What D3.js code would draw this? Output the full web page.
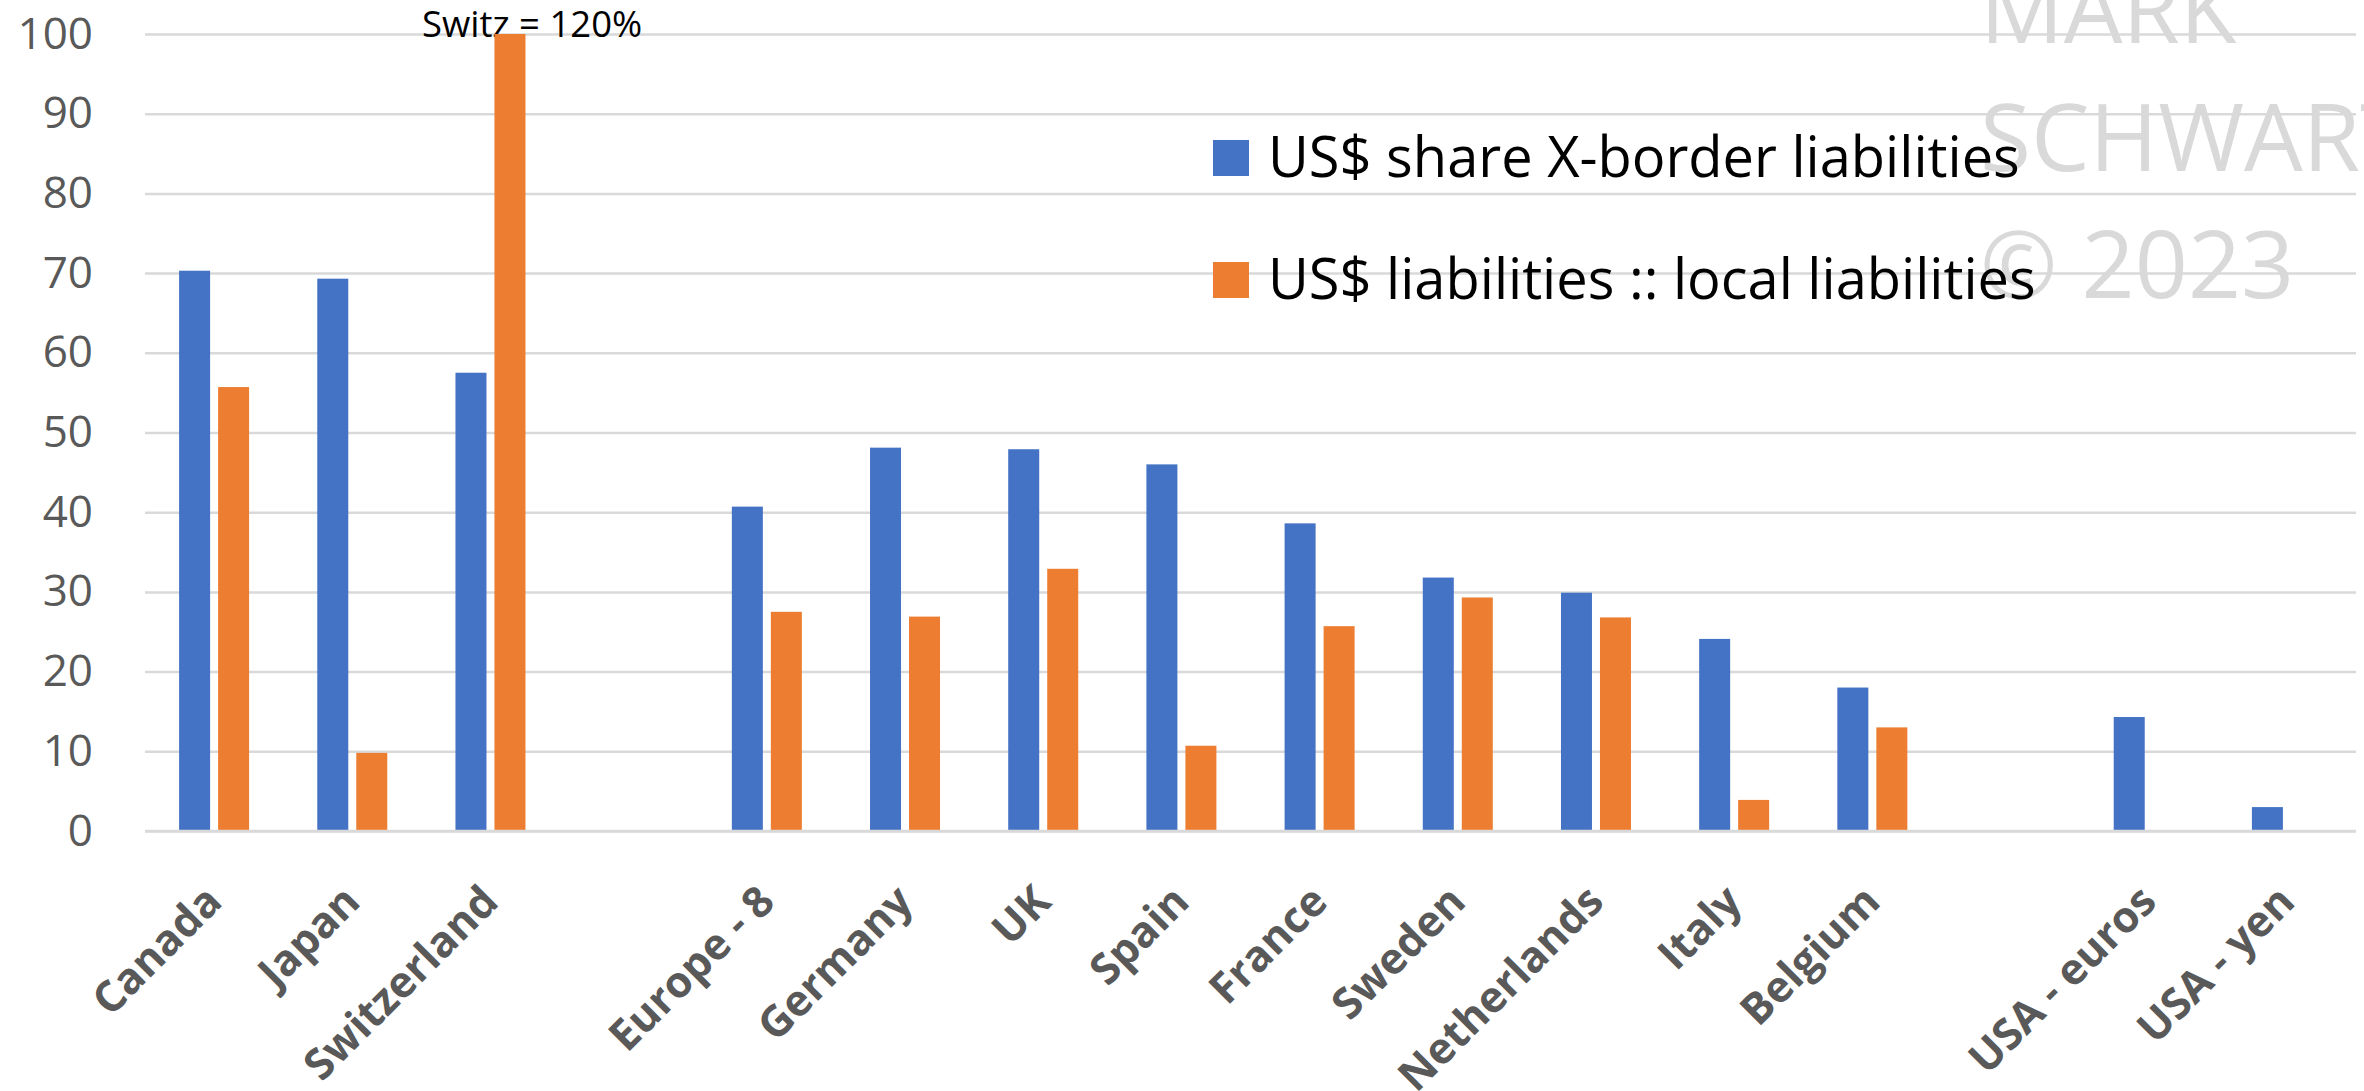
<!DOCTYPE html>
<html>
<head>
<meta charset="utf-8">
<script src="https://cdn.jsdelivr.net/npm/d3@7"></script>
<style>
  html, body { margin: 0; padding: 0; background: #fff; overflow: hidden; }
  svg { display: block; }
</style>
</head>
<body>
<svg id="chart"></svg>
<script>
// Category slots along the x axis; empty strings are spacer slots between groups.
const categories = ["Canada", "Japan", "Switzerland", "", "Europe - 8", "Germany", "UK", "Spain",
  "France", "Sweden", "Netherlands", "Italy", "Belgium", "", "USA - euros", "USA - yen"];

const seriesNames = ["US$ share X-border liabilities", "US$ liabilities :: local liabilities"];

// US$ share of cross-border liabilities (%)
const usdShare = [70.3, 69.3, 57.5, null, 40.7, 48.1, 47.9, 46.0, 38.6, 31.8, 29.9, 24.1, 18.0, null, 14.3, 3.0];
// US$ liabilities relative to local-currency liabilities (%)
const usdToLocal = [55.7, 9.8, 120, null, 27.5, 26.9, 32.9, 10.7, 25.7, 29.3, 26.8, 3.9, 13.0, null, null, null];

const yTicks = [0, 10, 20, 30, 40, 50, 60, 70, 80, 90, 100];
const seriesColors = ["#4472C4", "#ED7D31"];
const annotationText = "Switz = 120%";
const watermarkLines = ["MARK", "SCHWARTZ", "\u00A9 2023"];

const W = 2364, H = 1091;
const plot = { left: 145, right: 2356, top: 34, bottom: 831 };
const FONT = "'Open Sans', sans-serif";

const svg = d3.select("#chart").attr("width", W).attr("height", H)
  .style("font-family", FONT);

svg.append("rect").attr("width", W).attr("height", H).attr("fill", "#fff");

const x = d3.scaleBand()
  .domain(d3.range(categories.length))
  .range([plot.left, plot.right])
  .paddingInner(0).paddingOuter(0);

const xInner = d3.scaleBand()
  .domain([0, 1])
  .range([0, x.bandwidth()])
  .paddingInner(0.205)
  .paddingOuter(0.874);

// Values above the axis maximum are clipped at the top of the plot
const y = d3.scaleLinear().domain([0, 100]).range([plot.bottom, plot.top]).clamp(true);

// Horizontal gridlines
const grid = svg.append("g")
  .attr("transform", `translate(${plot.left},0)`)
  .call(d3.axisLeft(y).tickValues(yTicks).tickSize(-(plot.right - plot.left)).tickFormat(""));
grid.select(".domain").remove();
grid.selectAll(".tick line").attr("stroke", "#d9d9d9").attr("stroke-width", 2.5);

// Y axis labels
const yAxis = svg.append("g")
  .attr("transform", `translate(${plot.left},0)`)
  .call(d3.axisLeft(y).tickValues(yTicks).tickSize(0).tickPadding(52));
yAxis.select(".domain").remove();
yAxis.selectAll(".tick text")
  .attr("fill", "#595959")
  .style("font-size", "44px")
  .style("font-family", FONT);

// Watermark
const wm = svg.append("text")
  .attr("fill", "#d9d9d9")
  .style("font-size", "93px");
wm.selectAll("tspan").data(watermarkLines).join("tspan")
  .attr("x", 1980)
  .attr("y", (d, i) => 43 + i * 127.5)
  .text(d => d);

// Annotation for the clipped Switzerland bar
svg.append("text")
  .attr("x", 422).attr("y", 37)
  .attr("fill", "#000")
  .style("font-size", "36.5px")
  .text(annotationText);

// Bars
const seriesData = [usdShare, usdToLocal];
seriesData.forEach((vals, s) => {
  svg.append("g")
    .selectAll("rect")
    .data(vals.map((v, i) => ({ i, v })).filter(d => d.v != null))
    .join("rect")
    .attr("x", d => x(d.i) + xInner(s))
    .attr("width", xInner.bandwidth())
    .attr("y", d => y(d.v))
    .attr("height", d => y(0) - y(d.v))
    .attr("fill", seriesColors[s]);
});

// Baseline
svg.append("line")
  .attr("x1", plot.left).attr("x2", plot.right)
  .attr("y1", y(0)).attr("y2", y(0))
  .attr("stroke", "#d9d9d9").attr("stroke-width", 2.5);

// X axis category labels, rotated
const xAxis = svg.append("g")
  .attr("transform", `translate(0,${plot.bottom})`)
  .call(d3.axisBottom(x).tickSize(0).tickFormat(i => categories[i]));
xAxis.select(".domain").remove();
xAxis.selectAll(".tick text")
  .attr("x", 0).attr("y", 0).attr("dy", 0)
  .attr("text-anchor", "end")
  .attr("transform", "translate(10,73) rotate(-45)")
  .attr("fill", "#595959")
  .style("font-size", "43px")
  .style("font-weight", "bold")
  .style("font-family", FONT);

// Legend
const legend = svg.append("g");
const legendRows = legend.selectAll("g").data(seriesNames).join("g")
  .attr("transform", (d, i) => `translate(1213,${140 + i * 122})`);
legendRows.append("rect")
  .attr("width", 36).attr("height", 36)
  .attr("fill", (d, i) => seriesColors[i]);
legendRows.append("text")
  .attr("x", 55).attr("y", 37)
  .attr("fill", "#000")
  .style("font-size", "56px")
  .text(d => d);
</script>
</body>
</html>
